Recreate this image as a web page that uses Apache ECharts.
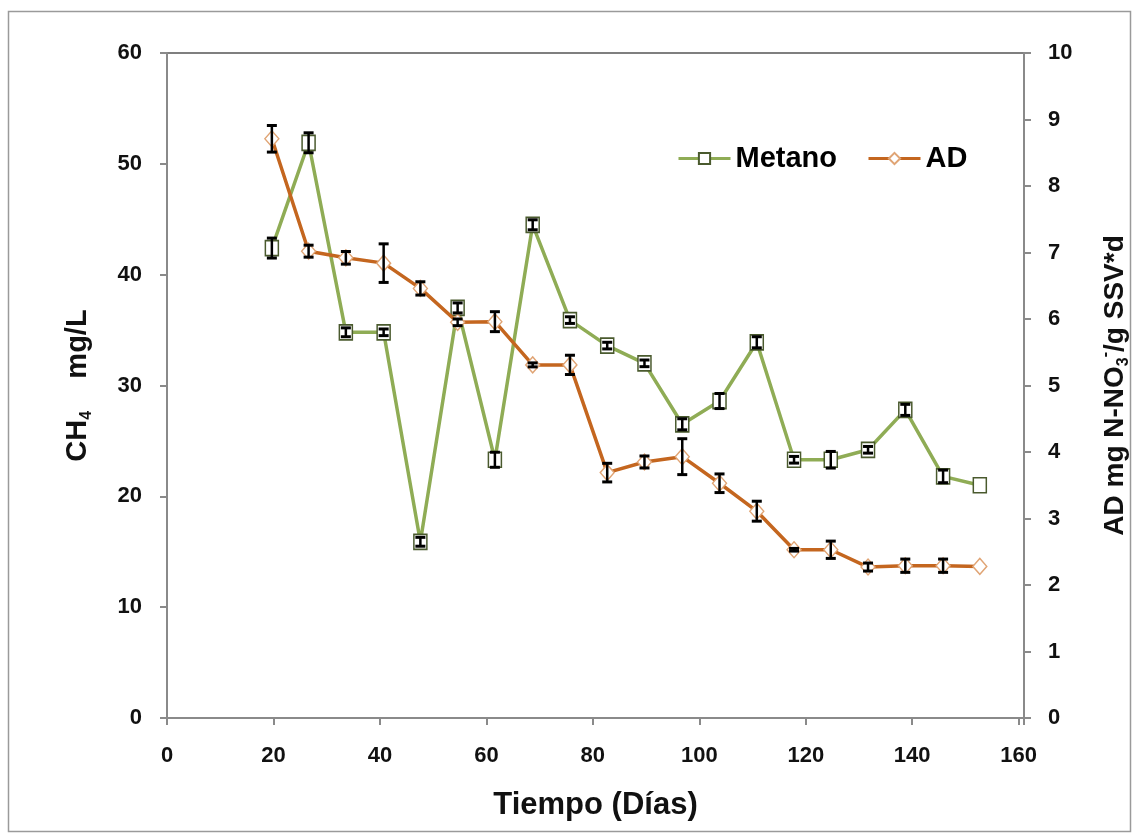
<!DOCTYPE html>
<html>
<head>
<meta charset="utf-8">
<script src="https://cdn.jsdelivr.net/npm/echarts@6/dist/echarts.min.js"></script>
<style>
html,body{margin:0;padding:0;background:#fff;}
#chart{width:1132px;height:837px;}
</style>
</head>
<body>
<div id="chart"></div>
<script>
// ---- data ----
const days = [19.7, 26.6, 33.6, 40.7, 47.6, 54.6, 61.6, 68.7, 75.7, 82.7, 89.7, 96.8, 103.8, 110.8, 117.8, 124.7, 131.7, 138.7, 145.8, 152.7];
const metano = [42.4, 51.9, 34.8, 34.8, 15.9, 37.0, 23.3, 44.5, 35.9, 33.6, 32.0, 26.5, 28.6, 33.9, 23.3, 23.3, 24.2, 27.8, 21.8, 21.0];
const metanoErr = [0.9, 0.9, 0.4, 0.3, 0.4, 0.45, 0.68, 0.45, 0.3, 0.3, 0.3, 0.5, 0.68, 0.5, 0.3, 0.75, 0.3, 0.5, 0.57, 0];
const ad = [8.71, 7.02, 6.92, 6.84, 6.46, 5.95, 5.96, 5.31, 5.31, 3.69, 3.85, 3.93, 3.53, 3.11, 2.53, 2.53, 2.27, 2.29, 2.29, 2.28];
const adErr = [0.2, 0.09, 0.095, 0.29, 0.1, 0.05, 0.15, 0.03, 0.145, 0.14, 0.09, 0.27, 0.14, 0.15, 0.02, 0.13, 0.06, 0.1, 0.1, 0];
const seriesNames = ['Metano', 'AD'];
const xTitle = 'Tiempo (Días)';

const FONT = '"Liberation Sans", Arial, sans-serif';
const chart = echarts.init(document.getElementById('chart'), null, {renderer: 'canvas'});

const metanoData = days.map((d, i) => [d, metano[i]]);
const adData = days.map((d, i) => [d, ad[i]]);
const metanoBars = days.map((d, i) => [d, metano[i] - metanoErr[i], metano[i] + metanoErr[i]]);
const adBars = days.map((d, i) => [d, ad[i] - adErr[i], ad[i] + adErr[i]]);

function errRender(params, api) {
  const x = api.value(0), lo = api.value(1), hi = api.value(2);
  if (!(hi - lo > 0)) return;
  const p1 = api.coord([x, lo]);
  const p2 = api.coord([x, hi]);
  const w = 5;
  const st = {stroke: '#000', lineWidth: 2.5};
  return {
    type: 'group',
    children: [
      {type: 'line', shape: {x1: p1[0], y1: p1[1], x2: p2[0], y2: p2[1]}, style: st},
      {type: 'line', shape: {x1: p1[0] - w, y1: p1[1], x2: p1[0] + w, y2: p1[1]}, style: {stroke: '#000', lineWidth: 3}},
      {type: 'line', shape: {x1: p2[0] - w, y1: p2[1], x2: p2[0] + w, y2: p2[1]}, style: {stroke: '#000', lineWidth: 3}}
    ]
  };
}

const labelStyle = {fontFamily: FONT, fontWeight: 'bold', fontSize: 22, color: '#111'};
const axisLineStyle = {lineStyle: {color: '#8a8a8a', width: 2}};

const option = {
  backgroundColor: '#fff',
  animation: false,
  textStyle: {fontFamily: FONT},
  grid: {left: 167, right: 108, top: 53, bottom: 119, show: true, borderColor: '#555', borderWidth: 1.5, backgroundColor: 'transparent', outerBoundsMode: 'none'},
  graphic: [{
    type: 'rect', shape: {x: 8.5, y: 11.5, width: 1122, height: 820},
    style: {fill: 'none', stroke: '#9a9a9a', lineWidth: 1.5}, silent: true, z: -10
  }],
  legend: {
    data: seriesNames,
    left: 672, top: 139,
    itemWidth: 52, itemHeight: 14, itemGap: 30,
    lineStyle: {width: 3},
    textStyle: {fontFamily: FONT, fontWeight: 'bold', fontSize: 29, color: '#000'}
  },
  xAxis: {
    type: 'value', min: 0, max: 161, interval: 20,
    name: xTitle, nameLocation: 'middle', nameGap: 72,
    nameTextStyle: {fontFamily: FONT, fontWeight: 'bold', fontSize: 31, color: '#111'},
    axisLine: axisLineStyle,
    axisTick: {show: true, inside: false, length: 7, lineStyle: {color: '#8a8a8a', width: 2}},
    axisLabel: Object.assign({margin: 27, formatter: v => (v % 20 === 0 ? String(v) : '')}, labelStyle),
    splitLine: {show: false}
  },
  yAxis: [{
    type: 'value', min: 0, max: 60, interval: 10, position: 'left',
    name: '{n|CH}{s|4}{n|    mg/L}', nameLocation: 'middle', nameGap: 72, nameRotate: 90,
    nameTextStyle: {
      fontFamily: FONT, fontWeight: 'bold', fontSize: 29, color: '#111',
      rich: {
        n: {fontFamily: FONT, fontWeight: 'bold', fontSize: 29, lineHeight: 34, color: '#111'},
        s: {fontFamily: FONT, fontWeight: 'bold', fontSize: 16, lineHeight: 16, verticalAlign: 'bottom', color: '#111'}
      }
    },
    axisLine: Object.assign({show: true}, axisLineStyle),
    axisTick: {show: true, inside: false, length: 7, lineStyle: {color: '#8a8a8a', width: 2}},
    axisLabel: Object.assign({margin: 25}, labelStyle),
    splitLine: {show: false}
  }, {
    type: 'value', min: 0, max: 10, interval: 1, position: 'right',
    name: '{n|AD mg N-NO}{s|3}{p|-}{n|/g SSV*d}', nameLocation: 'middle', nameGap: 74, nameRotate: 90,
    nameTextStyle: {
      fontFamily: FONT, fontWeight: 'bold', fontSize: 28, color: '#111',
      rich: {
        n: {fontFamily: FONT, fontWeight: 'bold', fontSize: 28, lineHeight: 34, color: '#111'},
        s: {fontFamily: FONT, fontWeight: 'bold', fontSize: 16, lineHeight: 16, verticalAlign: 'bottom', color: '#111'},
        p: {fontFamily: FONT, fontWeight: 'bold', fontSize: 16, lineHeight: 16, verticalAlign: 'top', color: '#111'}
      }
    },
    axisLine: Object.assign({show: true}, axisLineStyle),
    axisTick: {show: true, inside: false, length: 7, lineStyle: {color: '#8a8a8a', width: 2}},
    axisLabel: Object.assign({margin: 24}, labelStyle),
    splitLine: {show: false}
  }],
  series: [{
    name: 'Metano', type: 'line', yAxisIndex: 0, data: metanoData,
    symbol: 'rect', symbolSize: [13, 15], showAllSymbol: true,
    lineStyle: {color: '#8fac55', width: 3.5},
    itemStyle: {color: '#ffffff', borderColor: '#4a5a2e', borderWidth: 1.6},
    z: 2
  }, {
    name: 'AD', type: 'line', yAxisIndex: 1, data: adData,
    symbol: 'diamond', symbolSize: [14, 16], showAllSymbol: true,
    lineStyle: {color: '#c4661f', width: 3.5},
    itemStyle: {color: '#ffffff', borderColor: '#e0a474', borderWidth: 1.4},
    z: 3
  }, {
    name: 'errMetano', type: 'custom', yAxisIndex: 0, data: metanoBars,
    renderItem: errRender, encode: {x: 0, y: [1, 2]}, z: 4, silent: true
  }, {
    name: 'errAD', type: 'custom', yAxisIndex: 1, data: adBars,
    renderItem: errRender, encode: {x: 0, y: [1, 2]}, z: 4, silent: true
  }]
};
chart.setOption(option);
</script>
</body>
</html>
